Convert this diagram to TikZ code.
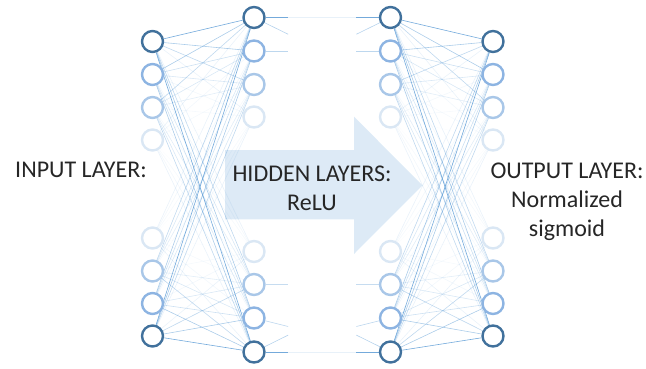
\documentclass[tikz,border=0pt]{standalone}
\usepackage{fontspec}
\setmainfont{Carlito}
\usetikzlibrary{calc,backgrounds}
\definecolor{nodedark}{HTML}{41719C}
\definecolor{nodemid}{HTML}{8DB4E2}
\definecolor{nodelight}{HTML}{A9C7E8}
\definecolor{nodefaint}{HTML}{DAE7F4}
\definecolor{synblue}{HTML}{5B9BD5}
\definecolor{flowfill}{HTML}{DDEAF6}

\begin{document}
\begin{tikzpicture}[
  x=1pt,y=-1pt,
  neuron/.style={circle,draw=#1,fill=white,line width=2.4pt,minimum size=21pt,inner sep=0pt},
  synapse/.style={draw=synblue,line width=0.6pt},
  caption/.style={font=\fontsize{24}{29}\selectfont,text=black!85,align=center},
]
  \useasboundingbox (0,0) rectangle (646,369);

  \foreach \y/\c [count=\i] in {41.5/nodedark,74.5/nodemid,107.5/nodelight,140/nodefaint,
      238/nodefaint,271/nodelight,303.5/nodemid,336/nodedark} {
    \node[neuron=\c] (in\i) at (152.5,\y) {};
    \node[neuron=\c] (out\i) at (493,\y) {};
  }
  \foreach \y/\c [count=\i] in {17.5/nodedark,51/nodemid,84.5/nodelight,117/nodefaint,
      251.5/nodefaint,284.5/nodelight,318/nodemid,352/nodedark} {
    \node[neuron=\c] (hida\i) at (254,\y) {};
    \node[neuron=\c] (hidb\i) at (390.5,\y) {};
  }

  \node[caption] (inlabel) at (81,170) {INPUT LAYER:};
  \node[caption] (hidlabel) at (312,188.5) {HIDDEN LAYERS:\\ReLU};
  \node[caption] (outlabel) at (567,202) {OUTPUT LAYER:\\Normalized\\sigmoid};

  \begin{pgfonlayer}{background}
    \fill[flowfill] (225,150) -- (354,150) -- (354,116.7) -- (422.5,185.35)
      -- (354,254) -- (354,219.3) -- (225,219.3) -- cycle;

    % dense layers on both sides, faded by neuron weight
    \foreach \i/\wi in {1/1,2/.6,3/.45,4/.15,5/.15,6/.45,7/.6,8/1}
      \foreach \j/\wj in {1/1,2/.6,3/.45,4/.15,5/.15,6/.45,7/.6,8/1} {
        \pgfmathsetmacro\op{0.85*\wi*\wj}
        \draw[synapse,opacity=\op] (in\i) -- (hida\j);
        \draw[synapse,opacity=\op] (hidb\j) -- (out\i);
      }

    % hidden to hidden: faint links and short stubs
    \draw[synapse,draw=synblue!14] (hida1) -- (hidb1);
    \draw[synapse,draw=synblue!14] (hida8) -- (hidb8);
    \foreach \a/\b/\op in {hida1/hidb1/85,hida1/hidb3/45,hida2/hidb2/40,
        hidb1/hida1/85,hidb1/hida3/45,hidb2/hida2/40,
        hida8/hidb8/85,hida8/hidb6/45,hida7/hidb8/40,hida6/hidb6/35,
        hidb8/hida8/85,hidb8/hida6/45,hidb7/hida8/40,hidb6/hida6/35}
      \draw[synapse,draw=synblue!\op] (\a) -- ($(\a)!.25!(\b)$);
  \end{pgfonlayer}
\end{tikzpicture}
\end{document}
